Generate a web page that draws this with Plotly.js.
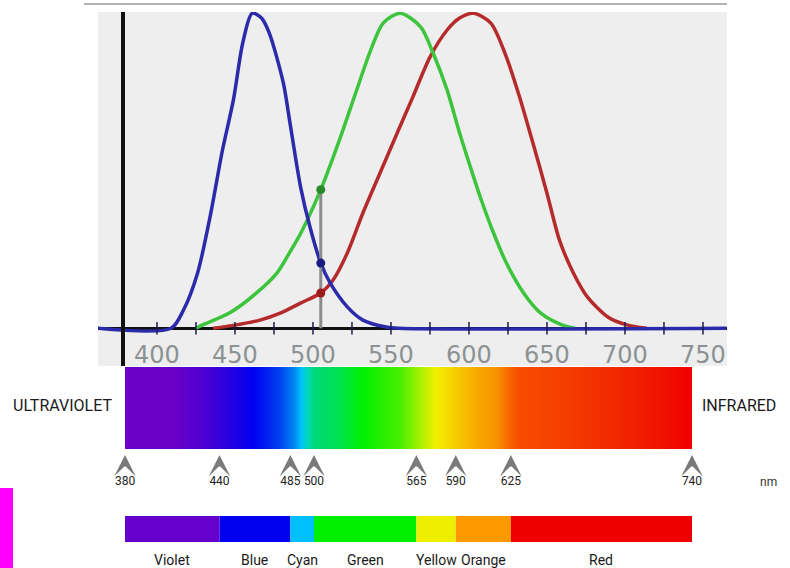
<!DOCTYPE html>
<html><head><meta charset="utf-8">
<script src="https://cdn.plot.ly/plotly-3.0.1.min.js"></script>
<style>html,body{margin:0;padding:0;background:#fff}#chart{width:790px;height:568px}</style>
</head><body><div id="chart"></div>
<script>
// ---- cone sensitivity curves (wavelength nm, relative sensitivity) ----
const blueNm  = [362, 409, 417, 426, 434, 442, 449, 455, 461, 467, 472, 481, 485, 492, 498, 505, 511, 522, 532, 547, 555, 765];
const blueVal = [0, 0, 0.058, 0.175, 0.353, 0.566, 0.725, 0.906, 1.0, 0.985, 0.937, 0.779, 0.66, 0.45, 0.323, 0.207, 0.144, 0.068, 0.026, 0.004, 0, 0];
const greenNm  = [425, 429, 447, 464, 477, 485, 492, 505, 517, 528, 537, 545, 556, 569, 577, 586, 594, 603, 607, 615, 624, 635, 646, 660, 668];
const greenVal = [0, 0.01, 0.05, 0.113, 0.176, 0.24, 0.30, 0.44, 0.598, 0.756, 0.883, 0.969, 1.0, 0.957, 0.874, 0.756, 0.62, 0.48, 0.42, 0.312, 0.207, 0.112, 0.048, 0.01, 0];
const redNm  = [436, 450, 466, 479, 492, 505, 513, 522, 532, 543, 554, 564, 575, 586, 594, 603, 614, 624, 633, 641, 650, 658, 667, 676, 689, 701, 714];
const redVal = [0, 0.01, 0.026, 0.048, 0.08, 0.112, 0.154, 0.239, 0.366, 0.493, 0.62, 0.734, 0.861, 0.947, 0.985, 1.0, 0.969, 0.861, 0.725, 0.588, 0.429, 0.28, 0.175, 0.099, 0.036, 0.011, 0];

// marked wavelength and the three sampled responses (green, blue, red)
const markNm = 505;
const markVals = [0.44, 0.207, 0.112];

// top axis ticks / labels
const minorTickNm = [400, 425, 450, 475, 500, 525, 550, 575, 600, 625, 650, 675, 700, 725, 750];
const labelNm = [400, 450, 500, 550, 600, 650, 700, 750];
const labelText = ['400', '450', '500', '550', '600', '650', '700', '750'];

// spectrum gradient stops (nm, colour)
const spectrumNm = [380, 412, 430, 461, 478, 487, 492, 496, 500, 515, 531, 555, 567, 577, 588, 604, 616, 623, 630, 661, 703, 740];
const spectrumColors = ['#6c00c8', '#6a00c8', '#4c00d2', '#0000f0', '#0040f0', '#0088f0', '#00c4f8', '#00d8b0', '#00d878', '#00e050', '#00f000', '#4cf000', '#a8f000', '#f2f000', '#f8d000', '#f8a800', '#f89000', '#f86800', '#f84c00', '#f43c00', '#f02000', '#f00000'];

// boundary arrows
const arrowNm = [380, 440, 485, 500, 565, 590, 625, 740];
const arrowLabels = ['380', '440', '485', '500', '565', '590', '625', '740'];

// colour bands
const bandNames = ['Violet', 'Blue', 'Cyan', 'Green', 'Yellow', 'Orange', 'Red'];
const bandStart = [380, 440, 485, 500, 565, 590, 625];
const bandEnd   = [440, 485, 500, 565, 590, 625, 740];
const bandColors = ['#6600cc', '#0000ee', '#00bfff', '#00ee00', '#eeee00', '#ff9900', '#ee0000'];

// ---- layout geometry (px -> paper) ----
const W = 790, H = 568;
const px = v => v / W, py = v => 1 - v / H;

const lo = spectrumNm[0], hi = spectrumNm[spectrumNm.length - 1];
const colorscale = spectrumNm.map((n, i) => [(n - lo) / (hi - lo), spectrumColors[i]]);

const curveLine = (c) => ({ color: c, width: 3.5, shape: 'spline', smoothing: 0.8 });

const traces = [
  { x: redNm, y: redVal, type: 'scatter', mode: 'lines', line: curveLine('#b52a2a'), xaxis: 'x', yaxis: 'y', hoverinfo: 'skip' },
  { x: greenNm, y: greenVal, type: 'scatter', mode: 'lines', line: curveLine('#3cc43c'), xaxis: 'x', yaxis: 'y', hoverinfo: 'skip' },
  { x: blueNm, y: blueVal, type: 'scatter', mode: 'lines', line: curveLine('#2a2aaa'), xaxis: 'x', yaxis: 'y', hoverinfo: 'skip' },
  { x: minorTickNm, y: minorTickNm.map(() => 0), type: 'scatter', mode: 'markers',
    marker: { symbol: 'line-ns', size: 9, line: { color: '#1c1c50', width: 1.5 } }, xaxis: 'x', yaxis: 'y', hoverinfo: 'skip' },
  { x: [markNm, markNm], y: [0, Math.max(...markVals)], type: 'scatter', mode: 'lines',
    line: { color: '#8c8c8c', width: 3 }, xaxis: 'x', yaxis: 'y', hoverinfo: 'skip' },
  { x: markVals.map(() => markNm), y: markVals, type: 'scatter', mode: 'markers',
    marker: { size: 9, color: ['#2a8a2a', '#1a1a80', '#9b1b1b'] }, xaxis: 'x', yaxis: 'y', hoverinfo: 'skip' },
  // spectrum gradient
  { type: 'heatmap', x: spectrumNm, y: [0], z: [spectrumNm], zmin: lo, zmax: hi, zsmooth: 'best',
    colorscale: colorscale, showscale: false, xaxis: 'x2', yaxis: 'y2', hoverinfo: 'skip' },
  // arrow labels
  { x: arrowNm, y: arrowNm.map(() => 32), type: 'scatter', mode: 'text', text: arrowLabels,
    textfont: { family: 'Roboto', size: 12, color: '#222' }, xaxis: 'x2', yaxis: 'y4', cliponaxis: false, hoverinfo: 'skip' },
  // colour bands
  { type: 'bar', orientation: 'h', y: bandNames.map(() => 'band'), base: bandStart,
    x: bandStart.map((s, i) => bandEnd[i] - s), width: 1,
    marker: { color: bandColors, line: { width: 0 } }, xaxis: 'x2', yaxis: 'y3', hoverinfo: 'skip' }
];

const hidden = { showgrid: false, zeroline: false, showticklabels: false, ticks: '', showline: false, fixedrange: true };

const bandLabels = bandNames.map((n, i) => ({
  text: n, x: (bandStart[i] + bandEnd[i]) / 2, xref: 'x2', y: py(560), yref: 'paper',
  showarrow: false, font: { family: 'Roboto', size: 14, color: '#1a1a1a' }, xanchor: 'center', yanchor: 'middle'
}));
const topTickLabels = labelNm.map((n, i) => ({
  text: labelText[i], x: n, xref: 'x', y: py(355), yref: 'paper', showarrow: false,
  font: { family: 'DejaVu Sans', size: 24, color: '#8c9292' }, xanchor: 'center', yanchor: 'middle'
}));
const arrowHeads = arrowNm.map(n => ({
  text: '', x: n, xref: 'x2', y: py(455), yref: 'paper', showarrow: true,
  arrowhead: 3, arrowsize: 3.6, arrowwidth: 1, arrowcolor: '#7a7a7a', ax: 0, ay: 11
}));

const annotations = bandLabels.concat(topTickLabels, arrowHeads, [
  { text: 'ULTRAVIOLET', x: px(63), y: py(405), xref: 'paper', yref: 'paper', showarrow: false,
    font: { family: 'Roboto', size: 16, color: '#1a1a1a' }, xanchor: 'center', yanchor: 'middle' },
  { text: 'INFRARED', x: px(739), y: py(405), xref: 'paper', yref: 'paper', showarrow: false,
    font: { family: 'Roboto', size: 16, color: '#1a1a1a' }, xanchor: 'center', yanchor: 'middle' },
  { text: 'nm', x: px(768), y: py(482), xref: 'paper', yref: 'paper', showarrow: false,
    font: { family: 'Roboto', size: 12, color: '#333' }, xanchor: 'center', yanchor: 'middle' }
]);

const layout = {
  width: W, height: H, margin: { l: 0, r: 0, t: 0, b: 0 },
  paper_bgcolor: '#ffffff', plot_bgcolor: 'rgba(0,0,0,0)', showlegend: false, barmode: 'overlay',
  xaxis: { domain: [px(98), px(727)], range: [362.2, 765.4], anchor: 'y', showgrid: false, zeroline: false,
    showline: false, ticks: '', showticklabels: false, fixedrange: true },
  yaxis: { domain: [py(366), py(12)], range: [-0.1197, 1.0041], anchor: 'free', position: px(122),
    showline: true, linecolor: '#111111', linewidth: 3.5, showgrid: false, showticklabels: false, ticks: '',
    zeroline: true, zerolinecolor: '#111111', zerolinewidth: 3, fixedrange: true },
  xaxis2: Object.assign({ domain: [px(125), px(692)], range: [380, 740], anchor: 'y2' }, hidden),
  yaxis2: Object.assign({ domain: [py(449), py(367)], range: [-0.5, 0.5], anchor: 'x2' }, hidden),
  yaxis3: Object.assign({ domain: [py(542), py(516)], range: [-0.5, 0.5], anchor: 'x2', type: 'category' }, hidden),
  yaxis4: Object.assign({ domain: [py(500), py(450)], range: [50, 0], anchor: 'x2' }, hidden),
  shapes: [
    { type: 'rect', xref: 'x domain', yref: 'y domain', x0: 0, x1: 1, y0: 0, y1: 1,
      fillcolor: '#eeeeee', line: { width: 0 }, layer: 'below' },
    { type: 'line', xref: 'paper', yref: 'paper', x0: px(84), x1: px(727), y0: py(4), y1: py(4),
      line: { color: '#9a9a9a', width: 1.5 } },
    { type: 'rect', xref: 'paper', yref: 'paper', x0: 0, x1: px(13), y0: py(568), y1: py(488),
      fillcolor: '#ff00ff', line: { width: 0 } }
  ],
  annotations: annotations
};

Plotly.newPlot('chart', traces, layout, { staticPlot: true, displayModeBar: false });
</script>
</body></html>
